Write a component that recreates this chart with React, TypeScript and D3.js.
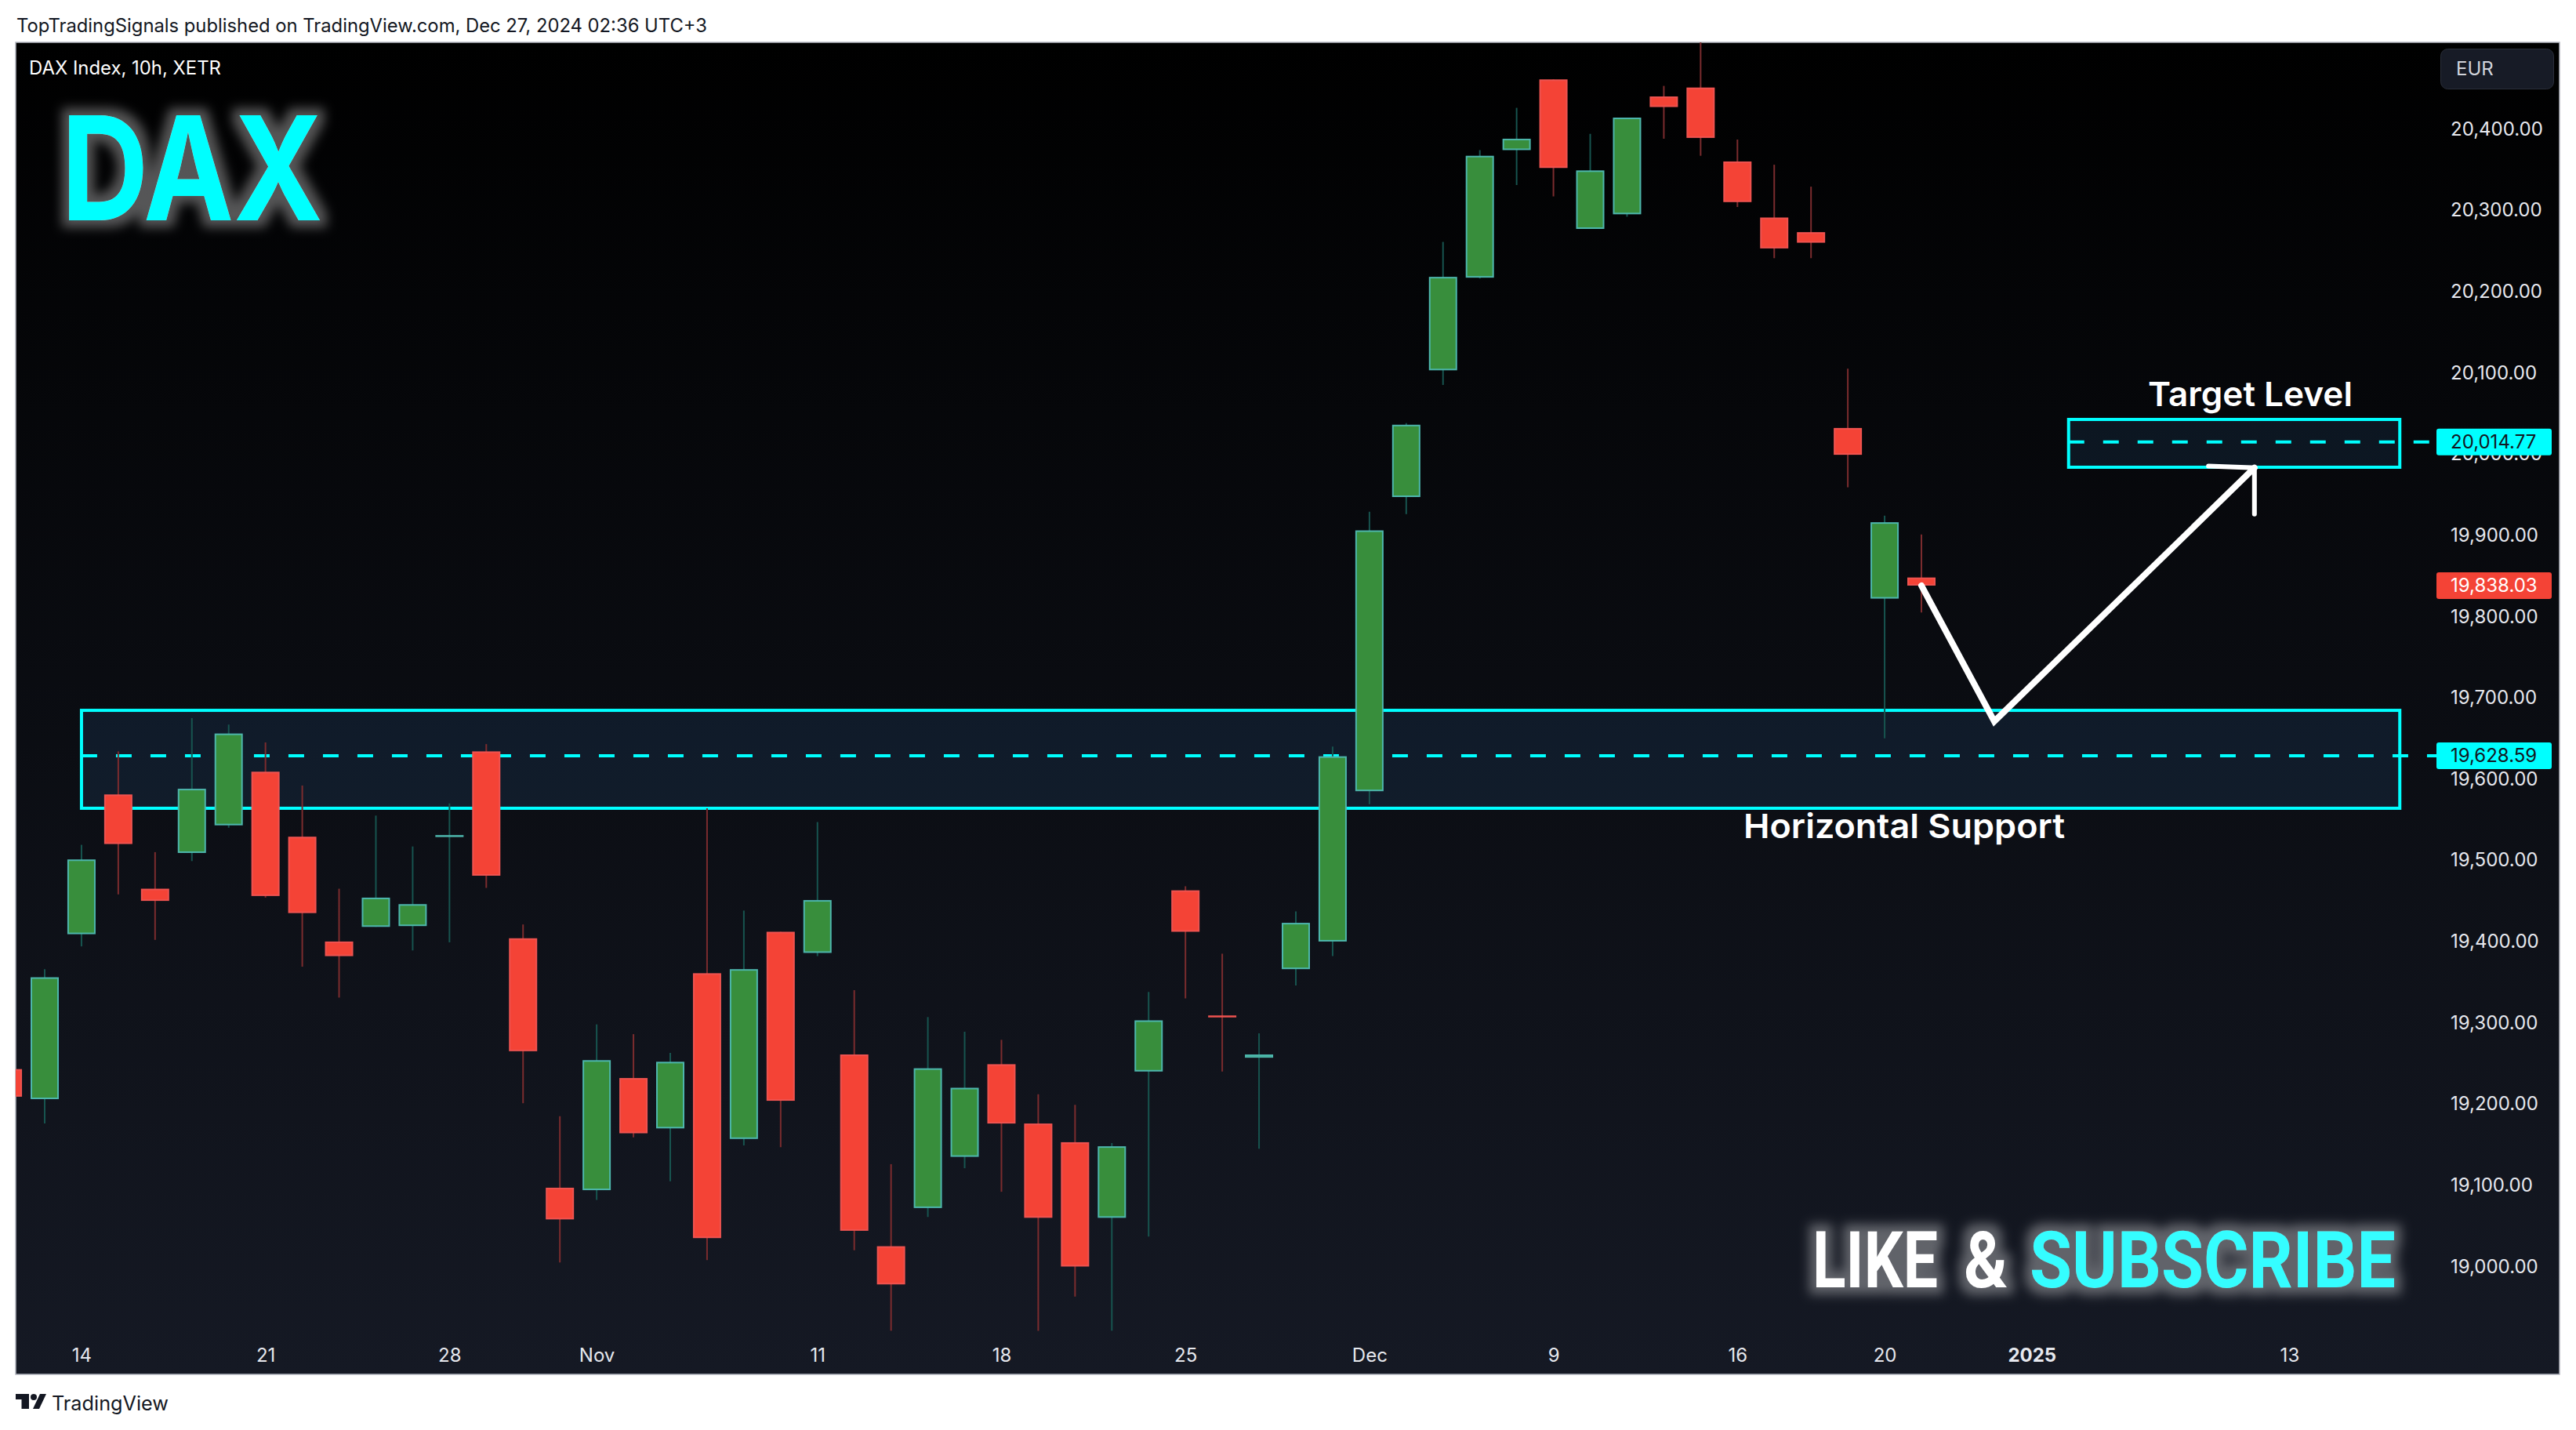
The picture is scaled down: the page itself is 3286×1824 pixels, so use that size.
import React, { useEffect, useRef } from "react";
import * as d3 from "d3";

const WIDTH = 3286;
const HEIGHT = 1824;

// candle 0 is the first whole one, the one before it is cut off by the pane
const firstIndex = -1;
const opens = [19243, 19206, 19409, 19581, 19465, 19509, 19543, 19609, 19529, 19400, 19418, 19419, 19529, 19634, 19404, 19097, 19094, 19232, 19170, 19361, 19157, 19412, 19386, 19261, 19025, 19072, 19135, 19249, 19176, 19153, 19060, 19240, 19463, 19309, 19257, 19366, 19400, 19585, 19947, 20103, 20217, 20374, 20461, 20277, 20295, 20440, 20451, 20360, 20291, 20273, 20032, 19822, 19848];
const highs = [19243, 19366, 19519, 19634, 19510, 19675, 19667, 19645, 19592, 19465, 19555, 19517, 19570, 19643, 19421, 19185, 19298, 19286, 19263, 19564, 19438, 19412, 19547, 19340, 19126, 19307, 19289, 19279, 19212, 19199, 19152, 19338, 19468, 19385, 19287, 19437, 19640, 19929, 20038, 20261, 20374, 20426, 20461, 20394, 20414, 20453, 20515, 20387, 20356, 20329, 20105, 19924, 19901];
const lows = [19209, 19176, 19394, 19458, 19402, 19499, 19540, 19454, 19369, 19331, 19418, 19389, 19399, 19466, 19201, 19005, 19082, 19159, 19105, 19008, 19149, 19147, 19382, 19020, 18921, 19061, 19121, 19092, 18921, 18963, 18921, 19037, 19330, 19240, 19145, 19346, 19382, 19569, 19926, 20085, 20216, 20331, 20317, 20277, 20292, 20388, 20367, 20304, 20241, 20241, 19959, 19650, 19805];
const closes = [19209, 19356, 19501, 19520, 19450, 19588, 19656, 19456, 19435, 19382, 19454, 19446, 19531, 19481, 19265, 19058, 19254, 19164, 19252, 19035, 19366, 19204, 19451, 19044, 18978, 19244, 19220, 19176, 19060, 19000, 19148, 19303, 19412, 19308, 19261, 19423, 19628, 19906, 20036, 20218, 20367, 20388, 20352, 20349, 20414, 20427, 20389, 20310, 20253, 20260, 19999, 19916, 19838.03];

const priceTicks = [19000, 19100, 19200, 19300, 19400, 19500, 19600, 19700, 19800, 19900, 20000, 20100, 20200, 20300, 20400];
const dateTickIndex = [1, 6, 11, 15, 21, 26, 31, 36, 41, 46, 50, 54, 61];
const dateTickLabels = ["14", "21", "28", "Nov", "11", "18", "25", "Dec", "9", "16", "20", "2025", "13"];

const supportZone = { left: 1, right: 64, top: 19684.5, bottom: 19564, level: 19628.59 };
const targetZone = { left: 55, right: 64, top: 20042.5, bottom: 19983.7, level: 20014.77 };
const lastPrice = 19838.03;

const arrowIndex = [51, 52.98, 60.05];
const arrowPrice = [19838, 19671, 19983];
const barbIndex = [58.8, 60.05, 60.05];
const barbPrice = [19985, 19983, 19926];

const UI_FONT = "Inter, 'Noto Sans', sans-serif";
const GREEN_BODY = "#388e3c";
const GREEN_EDGE = "#4db6ac";
const GREEN_WICK = "#17544f";
const RED_BODY = "#f44336";
const RED_EDGE = "#ef5350";
const RED_WICK = "#7b2c2e";
const CYAN = "#00ffff";

const App: React.FC = () => {
    const svgRef = useRef<SVGSVGElement | null>(null);

    useEffect(() => {
        if (!svgRef.current) return;
        const svg = d3.select(svgRef.current);
        svg.selectAll("*").remove();

        const pane = { left: 20, right: 3265, top: 54, bottom: 1753 };
        const x = d3.scaleLinear().domain([0, 51]).range([57, 2451]);
        const y = d3.scaleLinear().domain([19000, 20400]).range([1615.5, 164.5]);
        const bodyWidth = 34;

        const defs = svg.append("defs");
        const bg = defs
            .append("linearGradient")
            .attr("id", "paneBg")
            .attr("x1", 0)
            .attr("x2", 0)
            .attr("y1", 0)
            .attr("y2", 1);
        bg.append("stop").attr("offset", "0%").attr("stop-color", "#000000");
        bg.append("stop").attr("offset", "100%").attr("stop-color", "#151924");

        defs.append("clipPath")
            .attr("id", "paneClip")
            .append("rect")
            .attr("x", pane.left)
            .attr("y", pane.top)
            .attr("width", pane.right - pane.left)
            .attr("height", pane.bottom - pane.top);

        const glow = defs
            .append("filter")
            .attr("id", "glow")
            .attr("x", "-30%")
            .attr("y", "-60%")
            .attr("width", "160%")
            .attr("height", "220%");
        glow.append("feMorphology")
            .attr("in", "SourceAlpha")
            .attr("operator", "dilate")
            .attr("radius", 9)
            .attr("result", "fat");
        glow.append("feGaussianBlur")
            .attr("in", "fat")
            .attr("stdDeviation", 7)
            .attr("result", "blur");
        glow.append("feFlood")
            .attr("flood-color", "#ffffff")
            .attr("flood-opacity", 0.33)
            .attr("result", "tint");
        glow.append("feComposite")
            .attr("in", "tint")
            .attr("in2", "blur")
            .attr("operator", "in")
            .attr("result", "halo");
        const merge = glow.append("feMerge");
        merge.append("feMergeNode").attr("in", "halo");
        merge.append("feMergeNode").attr("in", "SourceGraphic");

        // page
        svg.append("rect")
            .attr("width", WIDTH)
            .attr("height", HEIGHT)
            .attr("fill", "#ffffff");

        svg.append("text")
            .attr("x", 21)
            .attr("y", 40.5)
            .attr("font-family", UI_FONT)
            .attr("font-size", 24)
            .attr("fill", "#131722")
            .attr("textLength", 881)
            .attr("lengthAdjust", "spacingAndGlyphs")
            .text("TopTradingSignals published on TradingView.com, Dec 27, 2024 02:36 UTC+3");

        svg.append("rect")
            .attr("x", pane.left)
            .attr("y", pane.top)
            .attr("width", pane.right - pane.left)
            .attr("height", pane.bottom - pane.top)
            .attr("fill", "url(#paneBg)")
            .attr("stroke", "#b2b5be")
            .attr("stroke-width", 1.5);

        const plot = svg.append("g").attr("clip-path", "url(#paneClip)");

        // zones and their dashed levels
        [supportZone, targetZone].forEach((zone) => {
            plot.append("rect")
                .attr("x", x(zone.left))
                .attr("y", y(zone.top))
                .attr("width", x(zone.right) - x(zone.left))
                .attr("height", y(zone.bottom) - y(zone.top))
                .attr("fill", "rgba(71,154,250,0.1)")
                .attr("stroke", CYAN)
                .attr("stroke-width", 4);
            plot.append("line")
                .attr("x1", x(zone.left))
                .attr("x2", 3108)
                .attr("y1", y(zone.level))
                .attr("y2", y(zone.level))
                .attr("stroke", CYAN)
                .attr("stroke-width", 4)
                .attr("stroke-dasharray", "20 24");
        });

        // candles
        const candles = d3.range(opens.length).map((k) => ({
            i: k + firstIndex,
            open: opens[k],
            high: highs[k],
            low: lows[k],
            close: closes[k],
        }));

        plot.append("g")
            .selectAll("line")
            .data(candles)
            .join("line")
            .attr("x1", (d) => x(d.i))
            .attr("x2", (d) => x(d.i))
            .attr("y1", (d) => y(d.high))
            .attr("y2", (d) => y(d.low))
            .attr("stroke", (d) => (d.close >= d.open ? GREEN_WICK : RED_WICK))
            .attr("stroke-width", 2);

        plot.append("g")
            .selectAll("rect")
            .data(candles)
            .join("rect")
            .attr("x", (d) => x(d.i) - bodyWidth / 2)
            .attr("y", (d) => y(Math.max(d.open, d.close)) + 1)
            .attr("width", bodyWidth)
            .attr("height", (d) => Math.max(y(Math.min(d.open, d.close)) - y(Math.max(d.open, d.close)) - 2, 0.5))
            .attr("fill", (d) => (d.close >= d.open ? GREEN_BODY : RED_BODY))
            .attr("stroke", (d) => (d.close >= d.open ? GREEN_EDGE : RED_EDGE))
            .attr("stroke-width", 2);

        // drawn path and arrow head
        const pen = d3
            .line<number>()
            .x((d) => x(d))
            .y((_, k) => y(arrowPrice[k]));
        plot.append("path")
            .attr("d", pen(arrowIndex))
            .attr("fill", "none")
            .attr("stroke", "#ffffff")
            .attr("stroke-width", 8)
            .attr("stroke-linecap", "round");
        const barbPen = d3
            .line<number>()
            .x((d) => x(d))
            .y((_, k) => y(barbPrice[k]));
        plot.append("path")
            .attr("d", barbPen(barbIndex))
            .attr("fill", "none")
            .attr("stroke", "#ffffff")
            .attr("stroke-width", 6)
            .attr("stroke-linecap", "round");

        // axes
        const priceAxis = svg
            .append("g")
            .attr("transform", "translate(3126,0)")
            .call(
                d3
                    .axisRight(y)
                    .tickValues(priceTicks)
                    .tickFormat((d) => d3.format(",.2f")(d as number))
                    .tickSize(0)
                    .tickPadding(0)
            );
        priceAxis.select(".domain").remove();
        priceAxis
            .selectAll("text")
            .attr("font-family", UI_FONT)
            .attr("font-size", 24)
            .attr("fill", "#e6e8ee");

        const dateAxis = svg
            .append("g")
            .attr("transform", "translate(0,1720)")
            .call(
                d3
                    .axisBottom(x)
                    .tickValues(dateTickIndex)
                    .tickFormat((_, k) => dateTickLabels[k])
                    .tickSize(0)
                    .tickPadding(0)
            );
        dateAxis.select(".domain").remove();
        dateAxis
            .selectAll<SVGTextElement, number>("text")
            .attr("font-family", UI_FONT)
            .attr("font-size", 24)
            .attr("fill", "#e6e8ee")
            .attr("font-weight", (d) => (d === 54 ? 700 : 400));

        // price tags
        const tags = [
            { value: targetZone.level, fill: CYAN, text: "#131722" },
            { value: lastPrice, fill: RED_BODY, text: "#ffffff" },
            { value: supportZone.level, fill: CYAN, text: "#131722" },
        ];
        tags.forEach((tag) => {
            svg.append("rect")
                .attr("x", 3108)
                .attr("y", y(tag.value) - 17)
                .attr("width", 147)
                .attr("height", 34)
                .attr("rx", 3)
                .attr("fill", tag.fill);
            svg.append("text")
                .attr("x", 3126)
                .attr("y", y(tag.value) + 8)
                .attr("font-family", UI_FONT)
                .attr("font-size", 24)
                .attr("fill", tag.text)
                .text(d3.format(",.2f")(tag.value));
        });

        // currency button
        svg.append("rect")
            .attr("x", 3113.5)
            .attr("y", 62.5)
            .attr("width", 144)
            .attr("height", 51)
            .attr("rx", 9)
            .attr("fill", "#171b26")
            .attr("stroke", "#2a2e39");
        svg.append("text")
            .attr("x", 3133)
            .attr("y", 96)
            .attr("font-family", UI_FONT)
            .attr("font-size", 24)
            .attr("fill", "#d1d4dc")
            .text("EUR");

        svg.append("text")
            .attr("x", 37)
            .attr("y", 94.5)
            .attr("font-family", UI_FONT)
            .attr("font-size", 24)
            .attr("fill", "#ffffff")
            .attr("textLength", 245)
            .attr("lengthAdjust", "spacingAndGlyphs")
            .text("DAX Index, 10h, XETR");

        // big overlay lettering
        svg.append("text")
            .attr("x", 78)
            .attr("y", 281)
            .attr("font-family", "Inter")
            .attr("font-weight", 700)
            .attr("font-size", 184)
            .attr("fill", CYAN)
            .attr("filter", "url(#glow)")
            .attr("textLength", 334)
            .attr("lengthAdjust", "spacingAndGlyphs")
            .text("DAX");

        const like = svg.append("g").attr("filter", "url(#glow)");
        [
            { t: "LIKE", x: 2312, w: 160, fill: "#ffffff" },
            { t: "&", x: 2505, w: 56, fill: "#ffffff" },
            { t: "SUBSCRIBE", x: 2589, w: 467, fill: "#35fdff" },
        ].forEach((part) => {
            like.append("text")
                .attr("x", part.x)
                .attr("y", 1642)
                .attr("font-family", "Roboto")
                .attr("font-weight", 700)
                .attr("font-size", 101)
                .attr("fill", part.fill)
                .attr("textLength", part.w)
                .attr("lengthAdjust", "spacingAndGlyphs")
                .text(part.t);
        });

        [
            { t: "Target Level", x: 2740, y: 518, w: 261 },
            { t: "Horizontal Support", x: 2224, y: 1069, w: 410 },
        ].forEach((label) => {
            svg.append("text")
                .attr("x", label.x)
                .attr("y", label.y)
                .attr("font-family", "Inter")
                .attr("font-weight", 600)
                .attr("font-size", 43)
                .attr("fill", "#ffffff")
                .attr("textLength", label.w)
                .attr("lengthAdjust", "spacingAndGlyphs")
                .text(label.t);
        });

        // footer
        const logo = svg.append("g").attr("fill", "#131722");
        logo.append("path").attr("d", "M20 1778H37V1797H27.5V1785H20Z");
        logo.append("circle").attr("cx", 43).attr("cy", 1782).attr("r", 4);
        logo.append("path").attr("d", "M51 1778H59L50 1797H42Z");
        svg.append("text")
            .attr("x", 66)
            .attr("y", 1798.5)
            .attr("font-family", UI_FONT)
            .attr("font-size", 25)
            .attr("fill", "#131722")
            .attr("textLength", 149)
            .attr("lengthAdjust", "spacingAndGlyphs")
            .text("TradingView");
    }, []);

    return (
        <svg
            ref={svgRef}
            width={WIDTH}
            height={HEIGHT}
            viewBox={`0 0 ${WIDTH} ${HEIGHT}`}
            style={{ position: "absolute", left: 0, top: 0, display: "block" }}
        />
    );
};

export default App;
